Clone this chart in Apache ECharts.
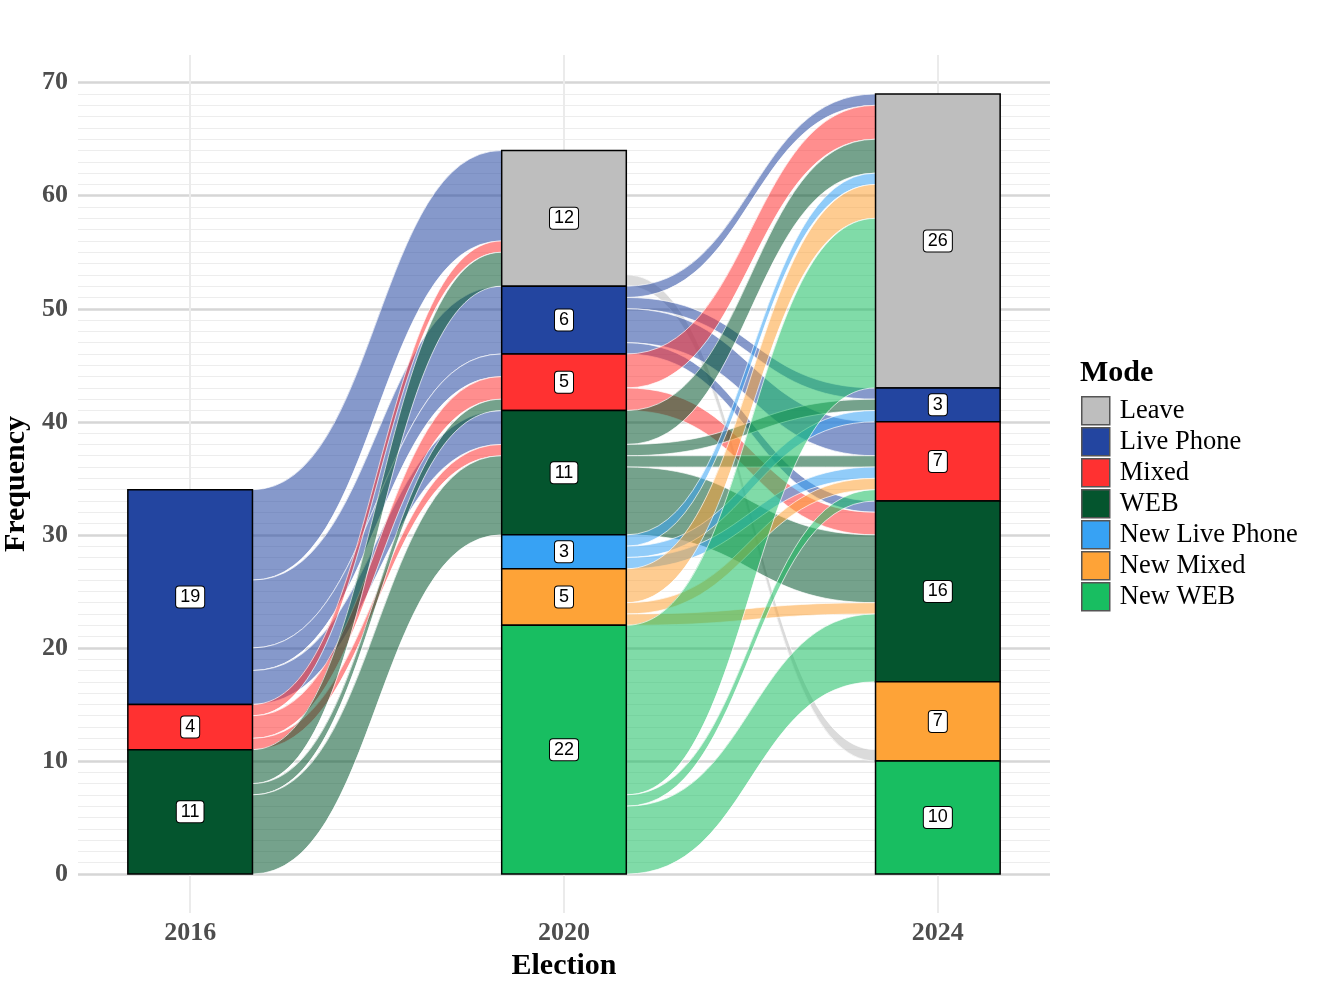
<!DOCTYPE html>
<html>
<head>
<meta charset="utf-8">
<script src="https://cdn.jsdelivr.net/npm/echarts@6/dist/echarts.min.js"></script>
<style>
html, body { margin: 0; padding: 0; background: #fff; }
#chartView { width: 1321px; height: 988px; }
</style>
</head>
<body>
<div id="chartView"></div>
<script>
// strata, listed top to bottom as they stack in each column
var modes = ['Leave', 'Live Phone', 'Mixed', 'WEB', 'New Live Phone', 'New Mixed', 'New WEB'];
var modeColors = ['#BEBEBE', '#2345A0', '#FF3131', '#04552E', '#37A2F4', '#FEA337', '#18BE61'];
var years = ['2016', '2020', '2024'];

var count2016 = [0, 19, 4, 11, 0, 0, 0];
var count2020 = [12, 6, 5, 11, 3, 5, 22];
var count2024 = [26, 3, 7, 16, 0, 7, 10];

// [from, to, n]; 'NA' = not present in that election (not drawn)
var flows1620 = [
	['Live Phone', 'Leave', 8], ['Live Phone', 'Live Phone', 6], ['Live Phone', 'Mixed', 2], ['Live Phone', 'WEB', 3],
	['Mixed', 'Leave', 1], ['Mixed', 'Mixed', 2], ['Mixed', 'WEB', 1],
	['WEB', 'Leave', 3], ['WEB', 'Mixed', 1], ['WEB', 'WEB', 7],
	['NA', 'New Live Phone', 3], ['NA', 'New Mixed', 5], ['NA', 'New WEB', 22]
];
var flows2024 = [
	['Leave', 'NA', 11], ['Leave', 'New Mixed', 1],
	['Live Phone', 'Leave', 1], ['Live Phone', 'Live Phone', 1], ['Live Phone', 'Mixed', 3], ['Live Phone', 'WEB', 1],
	['Mixed', 'Leave', 3], ['Mixed', 'WEB', 2],
	['WEB', 'Leave', 3], ['WEB', 'Live Phone', 1], ['WEB', 'Mixed', 1], ['WEB', 'WEB', 6],
	['New Live Phone', 'Leave', 1], ['New Live Phone', 'Live Phone', 1], ['New Live Phone', 'Mixed', 1],
	['New Mixed', 'Leave', 3], ['New Mixed', 'Mixed', 1], ['New Mixed', 'WEB', 1],
	['New WEB', 'Leave', 15], ['New WEB', 'Mixed', 1], ['New WEB', 'WEB', 6],
	['NA', 'New Mixed', 6], ['NA', 'New WEB', 10]
];

var barHalf = 1 / 6;
var serif = "'Liberation Serif', 'Times New Roman', serif";

function rank(m) {
	return m === 'NA' ? -1 : modes.indexOf(m);
}

// top of each stratum in a column (stacked from the bottom)
function stratumTops(counts) {
	var tops = [], base = 0;
	for (var i = modes.length - 1; i >= 0; i--) {
		base += counts[i];
		tops[i] = base;
	}
	return tops;
}

function buildFlows(flows, countsL, countsR, xL, xR, out) {
	var topL = stratumTops(countsL), topR = stratumTops(countsR);
	var posL = [], posR = [];
	modes.forEach(function (m, i) {
		var cur = topL[i];
		flows.map(function (f, k) { return k; })
			.filter(function (k) { return flows[k][0] === m; })
			.sort(function (a, b) { return rank(flows[a][1]) - rank(flows[b][1]); })
			.forEach(function (k) { posL[k] = [cur, cur - flows[k][2]]; cur -= flows[k][2]; });
		cur = topR[i];
		flows.map(function (f, k) { return k; })
			.filter(function (k) { return flows[k][1] === m; })
			.sort(function (a, b) { return rank(flows[a][0]) - rank(flows[b][0]); })
			.forEach(function (k) { posR[k] = [cur, cur - flows[k][2]]; cur -= flows[k][2]; });
	});
	flows.forEach(function (f, k) {
		if (f[0] === 'NA' || f[1] === 'NA') return;
		out.push([xL + barHalf, posL[k][0], posL[k][1], xR - barHalf, posR[k][0], posR[k][1], modes.indexOf(f[0])]);
	});
}

var flowData = [];
buildFlows(flows1620, count2016, count2020, 1, 2, flowData);
buildFlows(flows2024, count2020, count2024, 2, 3, flowData);

function renderFlow(params, api) {
	var a = api.coord([api.value(0), api.value(1)]);
	var b = api.coord([api.value(0), api.value(2)]);
	var c = api.coord([api.value(3), api.value(4)]);
	var d = api.coord([api.value(3), api.value(5)]);
	var mx = (a[0] + c[0]) / 2;
	var path = 'M' + a[0] + ' ' + a[1] +
		' C' + mx + ' ' + a[1] + ' ' + mx + ' ' + c[1] + ' ' + c[0] + ' ' + c[1] +
		' L' + d[0] + ' ' + d[1] +
		' C' + mx + ' ' + d[1] + ' ' + mx + ' ' + b[1] + ' ' + b[0] + ' ' + b[1] + ' Z';
	return {
		type: 'path',
		shape: { pathData: path },
		style: {
			fill: echarts.color.modifyAlpha(modeColors[api.value(6)], 0.55),
			stroke: 'rgba(255,255,255,0.85)',
			lineWidth: 0.8
		}
	};
}

function renderStratum(params, api) {
	var x = api.value(0), lo = api.value(1), hi = api.value(2), n = api.value(3);
	var p0 = api.coord([x - barHalf, hi]);
	var p1 = api.coord([x + barHalf, lo]);
	var c = api.coord([x, (lo + hi) / 2]);
	return {
		type: 'group',
		children: [{
			type: 'rect',
			shape: { x: p0[0], y: p0[1], width: p1[0] - p0[0], height: p1[1] - p0[1] },
			style: { fill: api.visual('color'), stroke: '#000', lineWidth: 1.5 }
		}, {
			type: 'text',
			x: c[0],
			y: c[1],
			z2: 10,
			style: {
				text: String(n),
				align: 'center',
				verticalAlign: 'middle',
				font: "18px 'Liberation Sans', Arial, sans-serif",
				fill: '#000',
				backgroundColor: '#fff',
				borderColor: '#000',
				borderWidth: 1,
				borderRadius: 3,
				padding: [2, 4, 1, 4]
			}
		}]
	};
}

var counts = [count2016, count2020, count2024];
var strataSeries = modes.map(function (m, i) {
	var data = [];
	counts.forEach(function (cnt, y) {
		if (cnt[i] > 0) {
			var top = stratumTops(cnt)[i];
			data.push([y + 1, top - cnt[i], top, cnt[i]]);
		}
	});
	return {
		name: m,
		type: 'custom',
		z: 3,
		itemStyle: { color: modeColors[i] },
		renderItem: renderStratum,
		data: data
	};
});

// grid lines
var gridLines = [];
for (var k = 1; k < 70; k++) {
	if (k % 10 !== 0) gridLines.push({ yAxis: k, lineStyle: { color: '#ededed', width: 1, type: 'solid' } });
}
for (var k = 0; k <= 70; k += 10) {
	gridLines.push({ yAxis: k, lineStyle: { color: '#d6d6d6', width: 2.5, type: 'solid' } });
}
[1, 2, 3].forEach(function (v) {
	gridLines.push({ xAxis: v, lineStyle: { color: '#ebebeb', width: 2, type: 'solid' } });
});

var chartView = echarts.init(document.getElementById('chartView'));
var ops = {
	animation: false,
	backgroundColor: '#fff',
	title: {
		text: 'Mode',
		left: 1080,
		top: 358,
		padding: 0,
		textStyle: { fontFamily: serif, fontWeight: 'bold', fontSize: 30, color: '#000' }
	},
	legend: {
		data: modes,
		orient: 'vertical',
		left: 1081,
		top: 396,
		padding: 0,
		itemWidth: 28,
		itemHeight: 28,
		itemGap: 1.5,
		selectedMode: false,
		icon: 'rect',
		itemStyle: { borderColor: '#555', borderWidth: 1.5 },
		textStyle: { fontFamily: serif, fontSize: 26.5, color: '#000', lineHeight: 26, padding: [0, 0, 0, 5] }
	},
	grid: {
		left: 78,
		right: 271,
		top: 55,
		bottom: 75,
		outerBoundsMode: 'none',
		containLabel: false
	},
	xAxis: {
		type: 'value',
		min: 0.7,
		max: 3.3,
		name: 'Election',
		nameLocation: 'middle',
		nameGap: 37,
		nameTextStyle: { fontFamily: serif, fontWeight: 'bold', fontSize: 30, color: '#000' },
		axisLine: { show: false },
		axisTick: { show: false },
		splitLine: { show: false },
		axisLabel: {
			customValues: [1, 2, 3],
			formatter: function (v) { return years[Math.round(v) - 1]; },
			margin: 7,
			fontFamily: serif,
			fontWeight: 'bold',
			fontSize: 26,
			color: '#4d4d4d'
		}
	},
	yAxis: {
		type: 'value',
		min: -3.45,
		max: 72.45,
		name: 'Frequency',
		nameLocation: 'middle',
		nameRotate: 90,
		nameGap: 42,
		nameTextStyle: { fontFamily: serif, fontWeight: 'bold', fontSize: 30, color: '#000' },
		axisLine: { show: false },
		axisTick: { show: false },
		splitLine: { show: false },
		axisLabel: {
			customValues: [0, 10, 20, 30, 40, 50, 60, 70],
			margin: 10,
			fontFamily: serif,
			fontWeight: 'bold',
			fontSize: 26,
			color: '#4d4d4d'
		}
	},
	series: [{
		name: 'grid',
		type: 'line',
		z: 0,
		silent: true,
		data: [],
		markLine: {
			z: 0,
			silent: true,
			symbol: ['none', 'none'],
			label: { show: false },
			emphasis: { disabled: true },
			data: gridLines
		}
	}, {
		name: 'flows',
		type: 'custom',
		z: 1,
		silent: true,
		renderItem: renderFlow,
		data: flowData
	}].concat(strataSeries)
};
chartView.setOption(ops);
</script>
</body>
</html>
